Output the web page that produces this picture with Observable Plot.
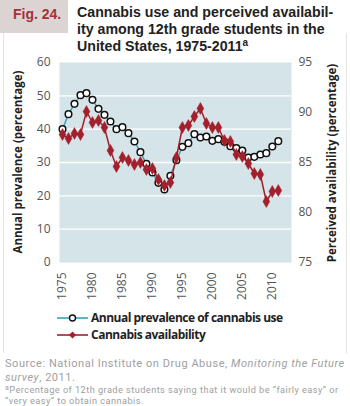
<!DOCTYPE html>
<html>
<head>
<meta charset="utf-8">
<script src="https://cdn.jsdelivr.net/npm/d3@7"></script>
<script src="https://cdn.jsdelivr.net/npm/@observablehq/plot@0.6"></script>
<style>
  html, body { margin:0; padding:0; background:#fff; }
  #root { position:relative; width:350px; height:406px; overflow:hidden; font-family:"Open Sans", sans-serif; }
  .abs { position:absolute; white-space:nowrap; }
  #figbox { left:0; top:0; width:68px; height:33px; background:#dcd3d3; }
  #fig { left:13px; top:6px; font:bold 14px "Liberation Sans", Arial, sans-serif; color:#a3323a; }
  #title { left:77px; top:4px; font:bold 14.2px/17px "Liberation Sans", Arial, sans-serif; color:#222; }
  #title sup { font-size:10px; vertical-align:0; position:relative; top:-5px; }
  #frameL { left:3px; top:33px; width:1px; height:320px; background:#e4e4e4; }
  #frameR { left:346px; top:33px; width:1px; height:320px; background:#e4e4e4; }
  #chart { left:0; top:55px; }
  .ylab { font:bold 11.5px "Open Sans", sans-serif; color:#222; transform-origin:center center; transform:translate(-50%,-50%) rotate(-90deg); }
  .leg { left:57px; font:bold 12px/14px "Open Sans", sans-serif; letter-spacing:-0.5px; color:#222; display:flex; align-items:center; }
  .leg svg { margin-right:2px; }
  .src { left:5px; font:11px/13px Roboto, sans-serif; letter-spacing:0.55px; color:#a0a0a0; height:13px; }
  .note { left:5px; font:9.2px/11px Roboto, sans-serif; letter-spacing:0.45px; color:#a0a0a0; height:11px; }
  .note sup { font-size:7px; vertical-align:0; position:relative; top:-3px; line-height:0; }
</style>
</head>
<body>
<div id="root">
  <div class="abs" id="figbox"></div>
  <div class="abs" id="fig">Fig. 24.</div>
  <div class="abs" id="title">Cannabis use and perceived availabil-<br>ity among 12th grade students in the<br>United States, 1975-2011<sup>a</sup></div>
  <div class="abs" id="frameL"></div>
  <div class="abs" id="frameR"></div>
  <div class="abs" id="chart"></div>
  <div class="abs ylab" style="left:17px; top:162px;">Annual prevalence (percentage)</div>
  <div class="abs ylab" style="left:331px; top:163px;">Perceived availability (percentage)</div>
  <div class="abs leg" id="leg1" style="top:311px;"></div>
  <div class="abs leg" id="leg2" style="top:328px;"></div>
  <div class="abs src" style="top:357px;">Source: National Institute on Drug Abuse, <i>Monitoring the Future</i></div>
  <div class="abs src" style="top:370.5px;"><i>survey</i>, 2011.</div>
  <div class="abs note" style="top:384px;"><sup>a</sup>Percentage of 12th grade students saying that it would be “fairly easy” or</div>
  <div class="abs note" style="top:395.2px;">“very easy” to obtain cannabis.</div>
</div>
<script>
const years = [1975,1976,1977,1978,1979,1980,1981,1982,1983,1984,1985,1986,1987,1988,1989,1990,1991,1992,1993,1994,1995,1996,1997,1998,1999,2000,2001,2002,2003,2004,2005,2006,2007,2008,2009,2010,2011];
const prevalence = [40.0,44.5,47.6,50.2,50.8,48.8,46.1,44.3,42.3,40.0,40.6,38.8,36.3,33.1,29.6,27.0,23.9,21.9,26.0,30.7,34.7,35.8,38.5,37.5,37.8,36.5,37.0,36.2,34.9,34.3,33.6,31.5,31.7,32.4,32.8,34.8,36.4];
const availability = [87.8,87.4,87.9,87.8,90.1,89.0,89.2,88.5,86.2,84.6,85.5,85.2,84.8,85.0,84.3,84.4,83.3,82.7,83.0,85.5,88.5,88.7,89.6,90.4,88.9,88.5,88.5,87.2,87.1,85.8,85.6,84.9,83.9,83.8,81.1,82.1,82.2];
const xTicks = [1975,1980,1985,1990,1995,2000,2005,2010];
const yLeftTicks = [0,10,20,30,40,50,60];
const yRightTicks = [75,80,85,90,95];
const seriesNames = ["Annual prevalence of cannabis use","Cannabis availability"];
const colors = {blueLine:"#3aa3b4", red:"#a31f2b", circle:"#111"};

// right axis (75–95) mapped onto left scale (0–60)
const toLeft = a => (a - 75) * 3;
const fromLeft = v => v / 3 + 75;

const prevData = years.map((y, i) => ({year:y, v:prevalence[i]}));
const availData = years.map((y, i) => ({year:y, v:toLeft(availability[i]), raw:availability[i]}));

const chart = Plot.plot({
  width: 350, height: 250,
  marginTop: 7, marginBottom: 43, marginLeft: 59, marginRight: 59,
  style: {fontFamily:"'Open Sans', sans-serif", fontSize:"12px", color:"#555", background:"transparent", overflow:"visible"},
  x: {domain:[1974.5, 2013.2]},
  y: {domain:[0, 60]},
  marks: [
    Plot.frame({fill:"#d5e4e9", stroke:null}),
    Plot.gridY([10,20,30,40,50], {stroke:"#fff", strokeOpacity:1, strokeWidth:1.3}),
    Plot.axisY({anchor:"left", ticks:yLeftTicks, tickSize:0, tickPadding:9, label:null, fill:"#555"}),
    Plot.axisY({anchor:"right", ticks:yRightTicks.map(toLeft), tickFormat:v => String(Math.round(fromLeft(v))), tickSize:0, tickPadding:7, label:null, fill:"#555"}),
    Plot.axisX({anchor:"bottom", ticks:xTicks, tickFormat:d => String(d), tickRotate:-90, tickSize:0, tickPadding:10, label:null, fill:"#555"}),
    Plot.line(prevData, {x:"year", y:"v", stroke:colors.blueLine, strokeWidth:1.5}),
    Plot.dot(prevData, {x:"year", y:"v", r:3.3, fill:"#fff", stroke:colors.circle, strokeWidth:1.5}),
    Plot.line(availData, {x:"year", y:"v", stroke:colors.red, strokeWidth:1.5}),
    Plot.dot(availData, {x:"year", y:"v", symbol:"diamond", r:3.6, fill:colors.red, stroke:colors.red, strokeWidth:0.5})
  ]
});
document.getElementById("chart").appendChild(chart);

// legend
function legendSample(kind) {
  const ns = "http://www.w3.org/2000/svg";
  const s = document.createElementNS(ns, "svg");
  s.setAttribute("width", 32); s.setAttribute("height", 12);
  const l = document.createElementNS(ns, "line");
  l.setAttribute("x1", 0); l.setAttribute("x2", 31); l.setAttribute("y1", 6); l.setAttribute("y2", 6);
  l.setAttribute("stroke", kind === 0 ? colors.blueLine : colors.red); l.setAttribute("stroke-width", 1.6);
  s.appendChild(l);
  if (kind === 0) {
    const c = document.createElementNS(ns, "circle");
    c.setAttribute("cx", 15.5); c.setAttribute("cy", 6); c.setAttribute("r", 3);
    c.setAttribute("fill", "#fff"); c.setAttribute("stroke", colors.circle); c.setAttribute("stroke-width", 1.4);
    s.appendChild(c);
  } else {
    const p = document.createElementNS(ns, "path");
    p.setAttribute("d", "M15.5,2.5 L19,6 L15.5,9.5 L12,6 Z");
    p.setAttribute("fill", colors.red);
    s.appendChild(p);
  }
  return s;
}
["leg1","leg2"].forEach((id, i) => {
  const el = document.getElementById(id);
  el.appendChild(legendSample(i));
  const t = document.createElement("span");
  t.textContent = seriesNames[i];
  el.appendChild(t);
});
</script>
</body>
</html>
